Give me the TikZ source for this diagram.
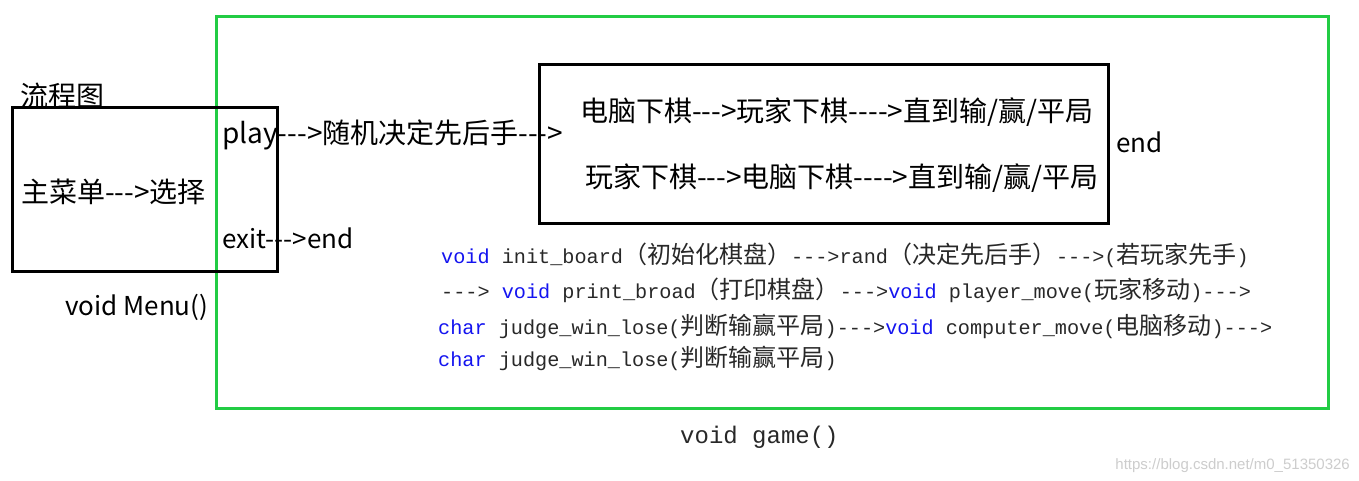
\documentclass[tikz,border=0pt]{standalone}
\usepackage{fontspec}
\newfontfamily\cjk{Noto Sans CJK SC}
\newfontfamily\mono{Liberation Mono}
\newfontfamily\wmfont{Liberation Sans}
\definecolor{boxgreen}{RGB}{34,204,68}
\definecolor{kwblue}{RGB}{20,20,240}
\definecolor{codegray}{RGB}{40,40,40}
\definecolor{wmgray}{RGB}{205,205,205}
\newcommand\hy{-\kern0pt}
\newcommand\arrA{\hy\hy\hy>}
\newcommand\arrB{\hy\hy\hy\hy>}
\newcommand\kw[1]{\textcolor{kwblue}{#1}}
\newcommand\zh[1]{{\fontsize{24}{24}\selectfont\cjk #1}}
\tikzset{
  big/.style={font=\cjk\fontsize{26}{30}\selectfont, inner sep=0pt, anchor=base west},
  bigzh/.style={font=\cjk\fontsize{28}{30}\selectfont, inner sep=0pt, anchor=base west},
  code/.style={font=\mono\fontsize{20.2}{24}\selectfont, text=codegray, inner sep=0pt, anchor=base west},
  blackbox/.style={draw=black, line width=3pt, rectangle, inner sep=0pt},
  greenbox/.style={draw=boxgreen, line width=3pt, rectangle, inner sep=0pt}
}
\begin{document}
\begin{tikzpicture}[x=1pt,y=-1pt]
\useasboundingbox (0,0) rectangle (1359,481);
\fill[white] (0,0) rectangle (1359,481);
% texts under boxes
\node[bigzh] (title) at (20,107) {流程图};
% boxes
\node[greenbox, minimum width=1112pt, minimum height=391pt] (gamebox) at (772,212.5) {};
\node[blackbox, minimum width=265pt, minimum height=163pt] (menubox) at (144.5,189.5) {};
\node[blackbox, minimum width=569pt, minimum height=158pt] (loopbox) at (823.5,144) {};
% menu texts
\node[bigzh] (menu) at (21,202) {主菜单\arrA 选择};
\node[bigzh] (play) at (222,144) {play\arrA 随机决定先后手\arrA};
\node[big] (exit) at (222,248) {exit\arrA end};
\node[big] (menufn) at (65,315) {void Menu()};
% loop texts
\node[bigzh] (cp) at (580,122) {电脑下棋\arrA 玩家下棋\arrB 直到输/赢/平局};
\node[bigzh] (pc) at (585,187) {玩家下棋\arrA 电脑下棋\arrB 直到输/赢/平局};
\node[big] (end) at (1116,153) {end};
% code lines
\node[code] (c1) at (441,263) {\kw{void} init\_board\zh{（初始化棋盘）}\arrA rand\zh{（决定先后手）}\arrA(\zh{若玩家先手})};
\node[code] (c2) at (441,298) {\arrA{} \kw{void} print\_broad\zh{（打印棋盘）}\arrA\kw{void} player\_move(\zh{玩家移动})\arrA};
\node[code] (c3) at (438,334) {\kw{char} judge\_win\_lose(\zh{判断输赢平局})\arrA\kw{void} computer\_move(\zh{电脑移动})\arrA};
\node[code] (c4) at (438,366) {\kw{char} judge\_win\_lose(\zh{判断输赢平局})};
\node[code, font=\mono\fontsize{24}{28}\selectfont] (gamefn) at (680,443) {void game()};
\node[font=\wmfont\fontsize{15}{18}\selectfont, text=wmgray, inner sep=0pt, anchor=base east] (wm) at (1350,469) {https://blog.csdn.net/m0\_51350326};
\end{tikzpicture}
\end{document}
